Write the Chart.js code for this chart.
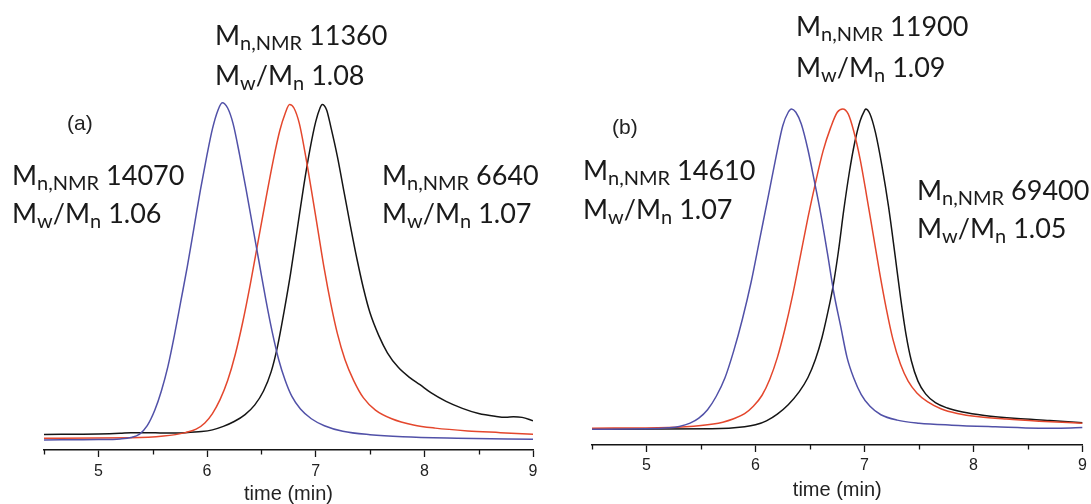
<!DOCTYPE html>
<html>
<head>
<meta charset="utf-8">
<script src="https://cdn.jsdelivr.net/npm/chart.js@4.4.1/dist/chart.umd.min.js"></script>
<style>
  html, body { margin:0; padding:0; background:#fff; }
  #wrap { position:relative; width:1091px; height:504px; overflow:hidden; }
  canvas { position:absolute; top:0; }
  .lab { position:absolute; font-family:Lato, "Open Sans", sans-serif; font-size:27px; line-height:27px; color:#1a1a1a; white-space:nowrap; }
  .lab sub { font-size:20px; vertical-align:-5px; line-height:0; }
  .pl { position:absolute; font-family:"Liberation Sans", Arial, sans-serif; font-size:21px; line-height:21px; color:#222; }
</style>
</head>
<body>
<div id="wrap">
  <canvas id="ca" width="545" height="504" style="left:0px"></canvas>
  <canvas id="cb" width="546" height="504" style="left:545px"></canvas>

  <div class="pl" style="left:67px; top:112px;">(a)</div>
  <div class="lab" style="left:215px; top:21px;">M<sub>n,NMR</sub> 11360</div>
  <div class="lab" style="left:215px; top:61px;">M<sub>w</sub>/M<sub>n</sub> 1.08</div>
  <div class="lab" style="left:12px; top:161px;">M<sub>n,NMR</sub> 14070</div>
  <div class="lab" style="left:12px; top:199px;">M<sub>w</sub>/M<sub>n</sub> 1.06</div>
  <div class="lab" style="left:382px; top:161px;">M<sub>n,NMR</sub> 6640</div>
  <div class="lab" style="left:382px; top:199px;">M<sub>w</sub>/M<sub>n</sub> 1.07</div>

  <div class="pl" style="left:612px; top:116px;">(b)</div>
  <div class="lab" style="left:796px; top:12px;">M<sub>n,NMR</sub> 11900</div>
  <div class="lab" style="left:796px; top:53px;">M<sub>w</sub>/M<sub>n</sub> 1.09</div>
  <div class="lab" style="left:583px; top:156px;">M<sub>n,NMR</sub> 14610</div>
  <div class="lab" style="left:583px; top:195px;">M<sub>w</sub>/M<sub>n</sub> 1.07</div>
  <div class="lab" style="left:917px; top:176px;">M<sub>n,NMR</sub> 69400</div>
  <div class="lab" style="left:917px; top:214px;">M<sub>w</sub>/M<sub>n</sub> 1.05</div>
</div>
<script>
// ---------- tick values ----------
const majorTicks = [5, 6, 7, 8, 9];
const minorTicks = [4.5, 5.5, 6.5, 7.5, 8.5];
const axisTitle = 'time (min)';

// ---------- panel (a) ----------
const tBlueA = [4.5, 5.0, 5.2, 5.3, 5.38, 5.45, 5.52, 5.58, 5.64, 5.70, 5.76, 5.82, 5.88, 5.94, 6.00, 6.05, 6.10, 6.14,
                6.19, 6.24, 6.30, 6.36, 6.42, 6.48, 6.54, 6.60, 6.66, 6.72, 6.78, 6.86, 6.96, 7.08, 7.25, 7.5, 7.8, 8.3, 9.0];
const iBlueA = [0.029, 0.03, 0.032, 0.036, 0.046, 0.07, 0.115, 0.17, 0.24, 0.33, 0.43, 0.53, 0.64, 0.75, 0.85, 0.925, 0.978, 1.0,
                0.985, 0.94, 0.85, 0.75, 0.645, 0.54, 0.435, 0.34, 0.26, 0.2, 0.155, 0.118, 0.09, 0.07, 0.054, 0.044, 0.038, 0.034, 0.031];

const tRedA = [4.5, 5.3, 5.6, 5.8, 5.9, 5.98, 6.05, 6.12, 6.19, 6.26, 6.33, 6.40, 6.47, 6.54, 6.61, 6.67, 6.72, 6.76,
               6.80, 6.85, 6.90, 6.96, 7.02, 7.08, 7.14, 7.20, 7.27, 7.35, 7.44, 7.55, 7.7, 7.9, 8.1, 8.4, 8.7, 9.0];
const iRedA = [0.034, 0.035, 0.04, 0.05, 0.06, 0.078, 0.105, 0.145, 0.2, 0.275, 0.37, 0.48, 0.6, 0.72, 0.835, 0.92, 0.97, 0.995,
               0.985, 0.94, 0.86, 0.75, 0.635, 0.52, 0.42, 0.335, 0.26, 0.2, 0.15, 0.115, 0.09, 0.072, 0.063, 0.055, 0.05, 0.045];

const tBlackA = [4.5, 5.0, 5.2, 5.3, 5.45, 5.6, 5.8, 5.95, 6.05, 6.15, 6.25, 6.35, 6.44, 6.52, 6.59, 6.65, 6.71, 6.77, 6.83, 6.89, 6.95, 7.0, 7.04, 7.06,
                 7.10, 7.14, 7.20, 7.26, 7.32, 7.38, 7.44, 7.50, 7.58, 7.66, 7.76, 7.86, 7.96, 8.06, 8.2, 8.35, 8.5, 8.65, 8.75, 8.82, 8.9, 9.0];
const iBlackA = [0.045, 0.046, 0.048, 0.05, 0.05, 0.049, 0.05, 0.053, 0.058, 0.068, 0.082, 0.102, 0.13, 0.17, 0.225, 0.3, 0.4, 0.51, 0.635, 0.76, 0.87, 0.945, 0.985, 0.995,
                 0.98, 0.93, 0.845, 0.745, 0.645, 0.55, 0.465, 0.395, 0.33, 0.28, 0.238, 0.21, 0.188, 0.165, 0.14, 0.12, 0.105, 0.097, 0.094, 0.096, 0.094, 0.084];

// ---------- panel (b) ----------
const tBlueB = [4.5, 5.0, 5.2, 5.3, 5.4, 5.48, 5.56, 5.64, 5.72, 5.80, 5.88, 5.96, 6.04, 6.12, 6.19, 6.25, 6.30, 6.33,
                6.37, 6.42, 6.48, 6.54, 6.60, 6.66, 6.72, 6.78, 6.84, 6.90, 6.97, 7.05, 7.15, 7.3, 7.5, 7.8, 8.2, 8.6, 8.8, 9.0];
const iBlueB = [0.047, 0.048, 0.051, 0.055, 0.065, 0.08, 0.105, 0.145, 0.2, 0.28, 0.375, 0.485, 0.615, 0.745, 0.86, 0.95, 0.99, 1.0,
                0.99, 0.955, 0.88, 0.785, 0.685, 0.57, 0.45, 0.355, 0.26, 0.2, 0.15, 0.115, 0.09, 0.074, 0.065, 0.059, 0.054, 0.05, 0.05, 0.052];

const tRedB = [4.5, 5.2, 5.5, 5.7, 5.8, 5.9, 5.98, 6.06, 6.13, 6.2, 6.27, 6.34, 6.41, 6.48, 6.55, 6.62, 6.69, 6.75, 6.80,
               6.85, 6.9, 6.96, 7.02, 7.08, 7.14, 7.2, 7.26, 7.33, 7.4, 7.48, 7.58, 7.7, 7.85, 8.05, 8.3, 8.6, 9.0];
const iRedB = [0.05, 0.052, 0.058, 0.068, 0.078, 0.093, 0.115, 0.148, 0.195, 0.26, 0.345, 0.445, 0.56, 0.675, 0.78, 0.875, 0.945, 0.99, 1.0,
               0.985, 0.935, 0.85, 0.74, 0.625, 0.51, 0.405, 0.315, 0.24, 0.19, 0.155, 0.128, 0.108, 0.094, 0.084, 0.077, 0.071, 0.065];

const tBlackB = [4.5, 5.6, 5.9, 6.0, 6.1, 6.2, 6.3, 6.4, 6.48, 6.55, 6.61, 6.66, 6.71, 6.76, 6.81, 6.86, 6.91, 6.96, 7.0, 7.01,
                 7.05, 7.1, 7.16, 7.22, 7.28, 7.33, 7.38, 7.43, 7.49, 7.56, 7.65, 7.76, 7.9, 8.1, 8.4, 8.7, 9.0];
const iBlackB = [0.047, 0.048, 0.054, 0.06, 0.072, 0.092, 0.12, 0.158, 0.2, 0.255, 0.32, 0.39, 0.47, 0.575, 0.7, 0.81, 0.9, 0.965, 0.995, 1.0,
                 0.985, 0.93, 0.83, 0.71, 0.565, 0.44, 0.33, 0.25, 0.19, 0.152, 0.126, 0.11, 0.098, 0.088, 0.079, 0.073, 0.066];

// ---------- helpers ----------
const COLORS = { blue:'#5151a8', red:'#e4472d', black:'#151515' };
const pts = (t, v) => t.map((x, i) => ({ x: x, y: v[i] }));

const minorTickPlugin = {
  id: 'minorTicks',
  afterDraw(chart) {
    const sx = chart.scales.x, ctx = chart.ctx;
    ctx.save();
    ctx.strokeStyle = '#151515';
    ctx.lineWidth = 1.3;
    minorTicks.forEach(v => {
      const px = Math.round(sx.getPixelForValue(v)) + 0.5;
      ctx.beginPath();
      ctx.moveTo(px, sx.top);
      ctx.lineTo(px, sx.top + 4.5);
      ctx.stroke();
    });
    ctx.restore();
  }
};

function ds(label, t, v, color) {
  return {
    label: label, data: pts(t, v), borderColor: color, borderWidth: 1.5,
    pointRadius: 0, fill: false, cubicInterpolationMode: 'monotone'
  };
}

function makeChart(id, sets, cfg) {
  return new Chart(document.getElementById(id), {
    type: 'line',
    data: { datasets: sets },
    plugins: [minorTickPlugin],
    options: {
      responsive: false, animation: false,
      layout: { padding: { left: cfg.left, right: cfg.right, top: cfg.top, bottom: 0 } },
      plugins: { legend: { display: false }, tooltip: { enabled: false } },
      scales: {
        x: {
          type: 'linear', min: 4.5, max: 9,
          afterBuildTicks: s => { s.ticks = majorTicks.map(v => ({ value: v })); },
          afterFit: s => { s.height = cfg.xh; },
          grid: { drawOnChartArea: false, drawTicks: true, tickLength: 7, tickColor: '#151515', tickWidth: 1.3 },
          border: { display: true, color: '#151515', width: 1.5 },
          ticks: { autoSkip: false, maxRotation: 0, padding: cfg.tp, color: '#222',
                   font: { family: 'Liberation Sans', size: 16 },
                   callback: v => String(v) },
          title: { display: true, text: axisTitle, color: '#222',
                   font: { family: 'Liberation Sans', size: 20, lineHeight: 1 },
                   padding: { top: 0, bottom: cfg.tb } }
        },
        y: { display: false, min: 0, max: 1.08 }
      }
    }
  });
}

makeChart('ca', [
  ds('blue', tBlueA, iBlueA, COLORS.blue),
  ds('red', tRedA, iRedA, COLORS.red),
  ds('black', tBlackA, iBlackA, COLORS.black)
], { left: 44, right: 12, top: 75, xh: 54, tb: 0, tp: 5 });

makeChart('cb', [
  ds('blue', tBlueB, iBlueB, COLORS.blue),
  ds('red', tRedB, iRedB, COLORS.red),
  ds('black', tBlackB, iBlackB, COLORS.black)
], { left: 47, right: 7, top: 82, xh: 59, tb: 4, tp: 4 });
</script>
</body>
</html>
